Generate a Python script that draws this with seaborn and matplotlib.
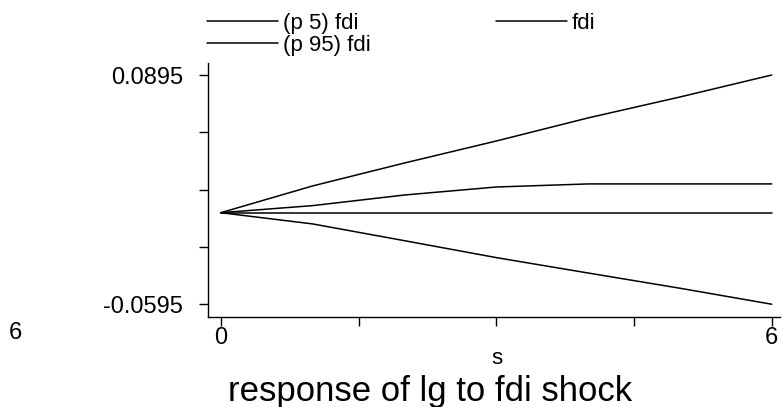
import numpy as np
import pandas as pd
import matplotlib
matplotlib.use("Agg")
import matplotlib.pyplot as plt
import seaborn as sns

# impulse-response values
steps = [0, 1, 2, 3, 4, 5, 6]
p5_fdi = [0.0, -0.0073, -0.0182, -0.0292, -0.0392, -0.0491, -0.0595]
fdi = [0.0, 0.0046, 0.0115, 0.0167, 0.0187, 0.0187, 0.0187]
p95_fdi = [0.0, 0.0174, 0.0323, 0.0466, 0.0616, 0.0752, 0.0895]
zero_line = [0.0, 0.0, 0.0, 0.0, 0.0, 0.0, 0.0]
series_names = ["(p 5) fdi", "(p 95) fdi", "fdi", "zero"]

y_ticks = [0.0895, 0.05225, 0.0150, -0.02225, -0.0595]
y_ticklabels = ["0.0895", "", "", "", "-0.0595"]
x_ticks = [0, 1.5, 3, 4.5, 6]
x_ticklabels = ["0", "", "", "", "6"]

sns.set_theme(style="white")
plt.rcParams["font.family"] = ["Liberation Sans", "DejaVu Sans"]
plt.rcParams["text.color"] = "black"

df = pd.DataFrame({
    "step": steps * 4,
    "value": p5_fdi + p95_fdi + fdi + zero_line,
    "series": [s for s in series_names for _ in steps],
})

fig = plt.figure(figsize=(7.83, 4.07), dpi=100)
ax = fig.add_axes([208 / 783, 90 / 407, 572 / 783, 254 / 407])

sns.lineplot(
    data=df, x="step", y="value", hue="series", hue_order=series_names,
    palette=["black"] * 4, linewidth=1.1, ax=ax, legend=False,
)

ax.set_xlim(-0.14, 6.09)
ax.set_ylim(-0.0678, 0.0973)
ax.set_xticks(x_ticks)
ax.set_xticklabels(x_ticklabels)
ax.set_yticks(y_ticks)
ax.set_yticklabels(y_ticklabels)
ax.tick_params(axis="both", direction="out", length=6.5, width=1, color="black",
               labelsize=17, labelcolor="black", left=True, bottom=True)
ax.tick_params(axis="y", pad=11.5)
ax.tick_params(axis="x", pad=1)
ax.set_xlabel("")
ax.set_ylabel("")
for side in ["top", "right"]:
    ax.spines[side].set_visible(False)
for side in ["left", "bottom"]:
    ax.spines[side].set_color("black")
    ax.spines[side].set_linewidth(1)

handles = ax.get_lines()[:3]
fig.legend(
    handles, series_names[:3], ncol=2, frameon=False, fontsize=16,
    loc="upper left", bbox_to_anchor=(207 / 783, 1 - 13 / 407),
    handlelength=3.2, handletextpad=0.2, columnspacing=5.65,
    labelspacing=0.05, borderpad=0, borderaxespad=0,
)

fig.text(497 / 783, 1 - 358 / 407, "s", ha="center", va="center", fontsize=16)
fig.text(430 / 783, 1 - 391 / 407, "response of lg to fdi shock",
         ha="center", va="center", fontsize=25)
fig.text(15 / 783, 1 - 333 / 407, "6", ha="center", va="center", fontsize=17)

fig.savefig("out.png", dpi=100)
